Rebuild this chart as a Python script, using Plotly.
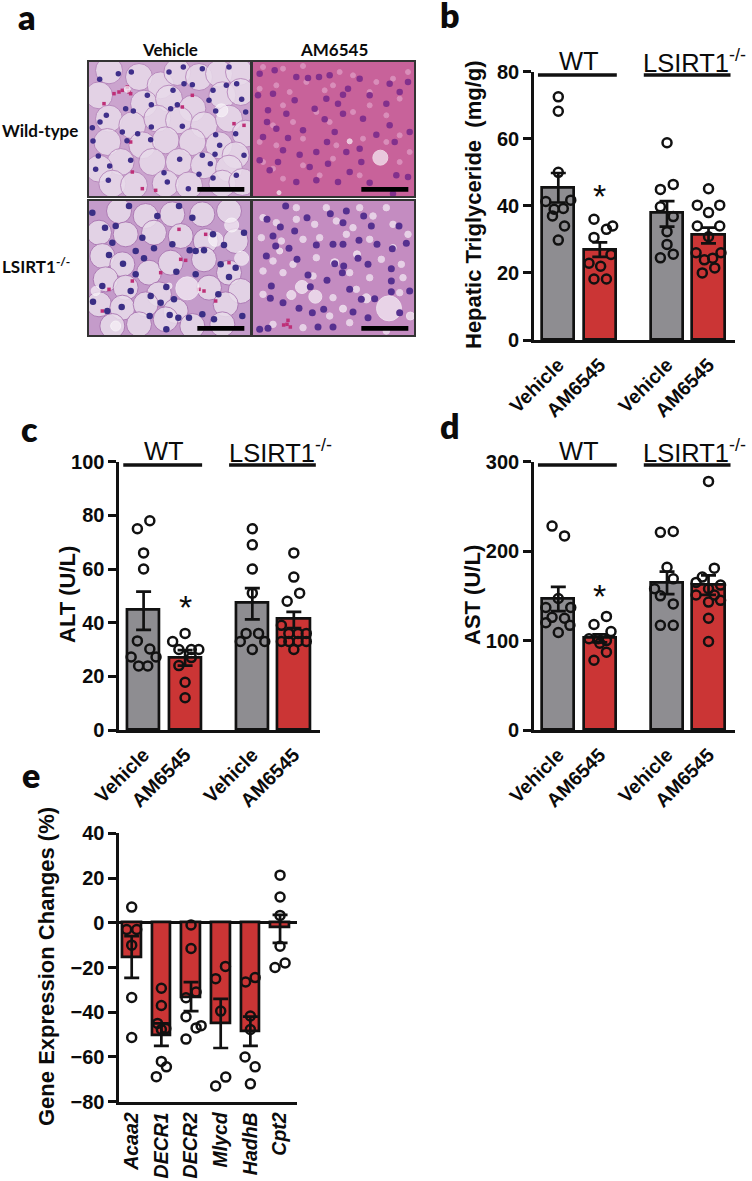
import plotly.graph_objects as go

# ---------- chart data ----------
group_labels = ["Vehicle", "AM6545", "Vehicle", "AM6545"]
group_x = [0, 1, 2.62, 3.62]
group_colors = ["#8E8D91", "#CB3535", "#8E8D91", "#CB3535"]

tg_means = [45.5, 27, 38, 31.5]
tg_hi = [49.8, 29.1, 41.4, 33.5]
tg_lo = [41, 24.8, 33.8, 28.8]
tg_wt_veh = [72.5, 68.2, 50, 41.3, 41.7, 39, 39.2, 37, 34, 29.8]
tg_wt_veh_dx = [0, 0, 0, -.30, .30, -.10, .12, -.14, .15, 0]
tg_wt_am = [36, 34, 33, 30.6, 25.5, 22.9, 22, 18.2, 18.2]
tg_wt_am_dx = [-.14, .31, .16, -.14, .27, -.26, .02, -.14, .16]
tg_ko_veh = [58.8, 44.9, 46.4, 39.7, 36.8, 32.3, 28.5, 24.5, 25.6]
tg_ko_veh_dx = [0, -.16, .15, -.16, .15, 0, 0, -.16, .15]
tg_ko_am = [45.1, 40.2, 40.2, 38, 34, 34, 30.8, 26, 26, 23.9, 24.4, 20, 21.5]
tg_ko_am_dx = [0, -.27, .27, 0, -.27, .27, 0, -.3, .3, -.1, .1, -.15, .15]

alt_means = [44.8, 27, 47.3, 41.3]
alt_hi = [51.6, 29.8, 52.9, 44]
alt_lo = [37.3, 24, 41.2, 38]
alt_wt_veh = [78, 75, 66, 60, 33.2, 30.2, 27.2, 27.2, 23.9, 23.9]
alt_wt_veh_dx = [.15, -.15, 0, 0, -.15, .15, -.30, .30, -.12, .10]
alt_wt_am = [36, 33, 30, 30, 30, 27, 24, 17.8, 12]
alt_wt_am_dx = [0, -.30, -.15, .15, .33, .15, -.15, 0, 0]
alt_ko_veh = [75, 69, 60, 51, 36, 36, 33, 33, 30]
alt_ko_veh_dx = [0, 0, 0, 0, -.15, .15, -.29, .30, 0]
alt_ko_am = [66, 57, 51, 48, 39, 36, 36, 36, 33, 33, 33, 33, 30]
alt_ko_am_dx = [0, 0, .14, -.16, -.30, -.12, .10, .30, -.30, -.12, .10, .30, 0]

ast_means = [147, 103, 165, 162]
ast_hi = [160, 107, 177, 173]
ast_lo = [133, 98, 152, 151]
ast_wt_veh = [228, 217, 147, 137, 137, 120, 126, 125, 117, 109]
ast_wt_veh_dx = [-.15, .15, 0, -.30, .30, -.30, -.15, .15, .28, 0]
ast_wt_am = [127, 118, 110, 102, 102, 100, 97, 87, 78]
ast_wt_am_dx = [.16, -.14, .27, -.26, -.04, .16, 0, .16, -.14]
ast_ko_veh = [221, 222, 182, 169, 158, 150, 141, 117, 117]
ast_ko_veh_dx = [-.16, .15, 0, .15, -.30, -.16, .15, -.16, .15]
ast_ko_am = [278, 181, 171, 165, 162, 158, 151, 151, 143, 145, 125, 99]
ast_ko_am_dx = [0, .14, -.15, -.30, .29, 0, -.30, .14, 0, .29, 0, 0]

gene_names = ["Acaa2", "DECR1", "DECR2", "Mlycd", "HadhB", "Cpt2"]
gene_means = [-15.5, -50.5, -33.5, -45, -48.5, -2]
gene_hi = [-6, -45, -26.5, -34, -42, 3.5]
gene_lo = [-24.6, -55, -39.5, -56, -55, -9]
acaa2 = [7, -3, -3, -10, -33.4, -51.3]
acaa2_dx = [0, -.17, .17, 0, 0, 0]
decr1 = [-29.3, -37, -45, -47.7, -47.3, -62, -64.4, -68.8]
decr1_dx = [0, 0, -.13, 0, .15, 0, .17, -.17]
decr2 = [-1, -11.5, -31, -33.5, -42, -47, -46, -52]
decr2_dx = [0, 0, .17, -.17, -.17, .17, .34, -.17]
mlycd = [-19.5, -25, -39.5, -69, -73]
mlycd_dx = [.16, -.17, 0, .17, -.17]
hadhb = [-24.5, -26.5, -41.7, -47.7, -60, -64.4, -72]
hadhb_dx = [.16, -.16, 0, 0, -.18, .16, 0]
cpt2 = [21.3, 11.5, 3.3, -10.5, -18, -20]
cpt2_dx = [0, 0, 0, 0, .17, -.17]

# ---------- histology sketches: feature centres ----------
tl_cells = [(60,25),(150,45),(215,70),(265,30),(330,45),(390,35),(450,30),(30,100),(165,125),(240,110),(310,140),
            (400,100),(455,90),(60,170),(130,190),(205,170),(270,175),(345,190),(420,170),(470,215),(55,240),
            (160,250),(230,235),(310,240),(390,250),(440,280),(95,300),(190,300),(270,300),(345,310),(420,320),
            (30,320),(70,365),(135,370),(230,365),(300,370),(400,365),(460,360)]
tl_nuclei = [(32,52),(88,35),(127,30),(240,30),(285,65),(252,85),(175,100),(187,128),(133,147),(110,140),(33,180),
             (100,210),(114,236),(185,233),(187,195),(280,193),(245,140),(265,128),(310,68),(372,85),(360,115),
             (380,147),(412,70),(443,65),(458,112),(470,150),(380,218),(392,250),(378,277),(340,280),(364,305),
             (372,348),(330,337),(272,292),(225,332),(235,360),(298,380),(20,322),(62,312),(28,282),(125,295),
             (58,355),(440,215),(465,280),(442,340),(340,20),(283,15),(420,15),(52,160),(10,197),(12,237),(146,215)]
tl_stain = [(100,85),(125,95),(75,95),(115,75),(45,125),(310,100),(280,135),(465,190),(125,240),(130,330),(160,380),
            (200,385),(120,90),(90,90),(435,185)]
tl_vacuoles = [(397,145),(115,82)]

tr_specks = [(30,15),(90,20),(150,12),(215,85),(110,90),(20,80),(70,70),(160,60),(300,40),(350,90),(420,50),(465,30),
             (60,190),(120,180),(90,130),(230,180),(300,150),(350,130),(440,110),(400,160),(20,240),(70,250),(150,230),
             (240,290),(330,230),(440,220),(400,240),(30,300),(90,350),(200,340),(150,310),(250,250),(320,340),(440,300),
             (260,30),(190,150),(370,60),(240,70),(470,270),(60,320)]
tr_nuclei = [(198,45),(65,25),(20,35),(130,45),(165,48),(230,40),(255,125),(270,98),(220,110),(125,115),(60,95),
             (15,100),(45,145),(42,180),(100,155),(185,140),(215,172),(270,155),(350,100),(400,125),(440,90),
             (465,60),(410,65),(320,50),(285,80),(105,228),(30,225),(90,265),(140,278),(190,270),(222,240),
             (280,270),(325,300),(425,240),(370,218),(470,210),(410,190),(330,170),(290,330),(255,360),(190,355),
             (130,360),(50,325),(20,295),(350,362),(430,340),(465,345),(420,395),(225,305),(170,315),(75,300),
             (320,260),(70,200),(245,210),(150,205)]
tr_vacuoles = [(382,287),(290,238),(78,392)]

bl_cells = [(90,30),(170,45),(250,40),(340,40),(420,30),(30,95),(110,100),(195,95),(275,105),(350,120),(440,120),
            (40,165),(100,190),(180,215),(245,185),(345,175),(420,215),(50,235),(110,260),(210,280),(360,260),
            (455,270),(30,310),(100,320),(170,310),(260,330),(410,310),(70,375),(150,370),(230,355),(310,375),(400,370)]
bl_nuclei = [(48,80),(80,75),(70,125),(60,162),(102,188),(140,150),(165,172),(195,142),(250,130),(302,148),(320,150),
             (345,148),(405,132),(262,212),(320,220),(420,228),(232,258),(185,285),(255,295),(125,270),(98,318),
             (40,255),(12,302),(55,330),(182,345),(242,342),(268,350),(300,350),(375,355),(120,15),(205,45),(310,50),
             (372,100),(465,95),(440,200),(395,190),(140,220),(215,305),(232,385),(388,280),(10,35),(270,15),(460,345),(340,340),(160,110)]
bl_stain = [(275,175),(290,178),(330,265),(345,270),(130,240),(40,330),(350,100),(380,300),(420,185),(270,85),(60,265),(215,215)]
bl_vacuoles = [(295,262),(428,72),(380,115),(458,172),(20,270),(80,375),(240,255)]

br_gaps = [(30,50),(70,65),(130,55),(185,70),(250,60),(300,80),(360,45),(420,70),(465,100),(25,110),(85,120),(150,115),
           (200,110),(280,100),(350,115),(420,140),(60,180),(120,190),(190,170),(385,175),(445,190),(30,210),(90,215),
           (290,215),(350,230),(450,230),(30,280),(240,290),(310,265),(440,275),(230,345),(290,365),(150,380),(60,370),
           (400,390),(130,20),(220,20),(320,20),(400,20),(180,225)]
br_nuclei = [(162,50),(232,38),(280,30),(332,45),(438,75),(270,65),(355,75),(82,78),(125,90),(42,55),(98,15),(108,142),
             (68,135),(40,165),(132,175),(190,132),(240,130),(270,130),(318,118),(372,130),(418,143),(460,127),(315,172),
             (245,188),(272,195),(268,215),(165,222),(222,238),(415,203),(415,240),(470,270),(415,272),(290,265),(172,257),
             (55,255),(52,292),(90,305),(138,322),(178,335),(212,325),(300,333),(345,350),(365,293),(325,295),(195,378),
             (240,378),(45,382),(20,385),(345,190),(440,335),(60,105)]
br_vacuoles = [(408,322),(187,287),(147,258),(115,282),(270,323),(340,292),(472,345),(245,185),(312,160),(80,150)]
br_stain = [(102,370),(112,378),(92,372),(105,358)]

PANEL_LETTERS = {"a": (27, 17), "b": (450, 14), "c": (29, 428), "d": (450, 425), "e": (31, 774)}

# ---------- geometry (pixels in the 752x1181 page) ----------
W, H = 752, 1181
INK = "#111111"
ARIAL = "Liberation Sans"
fig = go.Figure()


def xd(a, b):
    return [a / W, b / W]


def yd(top, bottom):
    return [1 - bottom / H, 1 - top / H]


def ann(x, y, text, size=20, family=ARIAL, weight=700, angle=0, anchor="center", **kw):
    fig.add_annotation(x=x / W, y=1 - y / H, xref="paper", yref="paper", text=text, showarrow=False,
                       xanchor=anchor, yanchor="middle", textangle=angle,
                       font=dict(family=family, size=size, color="#0b0b0b", weight=weight), **kw)


def axis_common():
    return dict(showgrid=False, zeroline=False, showline=True, linecolor=INK, linewidth=2.7, automargin=False)


def add_bars(n, xs, means, hi, lo, colors, width):
    fig.add_trace(go.Bar(
        x=xs, y=means, width=width, xaxis=f"x{n}", yaxis=f"y{n}",
        marker=dict(color=colors, line=dict(color=INK, width=2.7)),
        error_y=dict(type="data", symmetric=False,
                     array=[h - m for h, m in zip(hi, means)],
                     arrayminus=[m - l for m, l in zip(means, lo)],
                     color=INK, thickness=2.7, width=7.5),
        showlegend=False))


def add_points(n, x0, vals, dx):
    fig.add_trace(go.Scatter(
        x=[x0 + d for d in dx], y=vals, mode="markers", xaxis=f"x{n}", yaxis=f"y{n}", showlegend=False,
        cliponaxis=False,
        marker=dict(symbol="circle-open", size=9, color=INK, line=dict(color=INK, width=2.5))))


def group_panel(n, left, top, bottom, ymax, dtick, means, hi, lo, series, title, title_x, title_y, star_y, head_y):
    # left = pixel position of the y axis; bars are placed by the axis scale
    step = 41.5
    first = left + 24.3
    right = left + 200.5
    fig.layout[f"xaxis{n}" if n > 1 else "xaxis"] = go.layout.XAxis(
        domain=xd(left, right), range=[(left - first) / step, (right - first) / step],
        anchor=f"y{n}", tickmode="array", tickvals=group_x, ticktext=group_labels, tickangle=-45,
        ticks="", ticklabelstandoff=3, tickfont=dict(family=ARIAL, size=19.5, color="#0b0b0b", weight=700), **axis_common())
    fig.layout[f"yaxis{n}" if n > 1 else "yaxis"] = go.layout.YAxis(
        domain=yd(top, bottom), range=[0, ymax], anchor=f"x{n}", dtick=dtick,
        ticks="outside", ticklen=8, tickwidth=2.7, tickcolor=INK,
        tickfont=dict(family=ARIAL, size=20, color="#0b0b0b", weight=700), **axis_common())
    add_bars(n, group_x, means, hi, lo, group_colors, 0.78)
    for x0, (vals, dx) in zip(group_x, series):
        add_points(n, x0, vals, dx)
    ann(title_x, title_y, title, size=22, angle=-90)
    # group rules and their labels
    xref = f"x{n}" if n > 1 else "x"
    for a, b in [(-0.49, 1.41), (2.06, 4.15)]:
        fig.add_shape(type="line", xref=xref, yref="paper", x0=a, x1=b, y0=1 - head_y / H, y1=1 - head_y / H,
                      line=dict(color=INK, width=3.5))
    ann(first + 20.5, head_y - 14, "WT", size=25.5, weight=400)
    ann(first + 83, head_y - 14, "LSIRT1<sup>-/-</sup>", size=25.5, weight=400, anchor="left")
    # significance star sits above the AM6545 bar of the WT group
    fig.add_annotation(x=group_x[1], y=star_y, xref=xref, yref=f"y{n}" if n > 1 else "y", text="*", showarrow=False,
                       yanchor="middle", font=dict(family=ARIAL, size=34, color="#0b0b0b", weight=400))


group_panel(1, 534, 71.7, 340, 80, 20, tg_means, tg_hi, tg_lo,
            [(tg_wt_veh, tg_wt_veh_dx), (tg_wt_am, tg_wt_am_dx), (tg_ko_veh, tg_ko_veh_dx), (tg_ko_am, tg_ko_am_dx)],
            "Hepatic Triglyceride  (mg/g)", 473, 205, 43, 75)
group_panel(2, 119.3, 461.7, 730, 100, 20, alt_means, alt_hi, alt_lo,
            [(alt_wt_veh, alt_wt_veh_dx), (alt_wt_am, alt_wt_am_dx), (alt_ko_veh, alt_ko_veh_dx), (alt_ko_am, alt_ko_am_dx)],
            "ALT (U/L)", 68, 595, 46, 465)
group_panel(3, 534, 461.7, 730, 300, 100, ast_means, ast_hi, ast_lo,
            [(ast_wt_veh, ast_wt_veh_dx), (ast_wt_am, ast_wt_am_dx), (ast_ko_veh, ast_ko_veh_dx), (ast_ko_am, ast_ko_am_dx)],
            "AST (U/L)", 473, 595, 150, 465)

# ---------- panel e ----------
g_step = 29.67
g_left, g_right, g_first = 119.3, 297, 131.7
gene_x = list(range(len(gene_names)))
fig.layout["xaxis4"] = go.layout.XAxis(
    domain=xd(g_left, g_right), range=[(g_left - g_first) / g_step, (g_right - g_first) / g_step], anchor="y4",
    tickmode="array", tickvals=gene_x, ticktext=[f"<i>{g}</i>" for g in gene_names], tickangle=-90, ticks="",
    ticklabelstandoff=0, tickfont=dict(family=ARIAL, size=19.5, color="#0b0b0b", weight=700), **axis_common())
ax = axis_common()
ax["zeroline"] = True
ax["zerolinecolor"] = INK
ax["zerolinewidth"] = 2.7
fig.layout["yaxis4"] = go.layout.YAxis(
    domain=yd(833.3, 1101.7), range=[-80, 40], anchor="x4", dtick=20, ticks="outside", ticklen=8, tickwidth=2.7,
    tickcolor=INK, tickfont=dict(family=ARIAL, size=20, color="#0b0b0b", weight=700), **ax)
add_bars(4, gene_x, gene_means, gene_hi, gene_lo, "#CB3535", 0.63)
for x0, (vals, dx) in zip(gene_x, [(acaa2, acaa2_dx), (decr1, decr1_dx), (decr2, decr2_dx), (mlycd, mlycd_dx),
                                   (hadhb, hadhb_dx), (cpt2, cpt2_dx)]):
    add_points(4, x0, vals, dx)
ann(47, 967, "Gene Expression Changes (%)", size=22, angle=-90)


# ---------- panel a: schematic micrographs ----------
def micrograph(n, left, top, bg, cells, cell_fill, cell_line, cell_size, cell_symbol, nuclei, nuc_color, nuc_size, stain, vac, vac_size):
    hidden = dict(tickmode="array", tickvals=[], showticklabels=False, ticks="", showgrid=False, zeroline=False,
                  showline=True, mirror=True, linecolor="#333333", linewidth=1.5, automargin=False)
    fig.layout[f"xaxis{n}"] = go.layout.XAxis(domain=xd(left, left + 161), range=[0, 483], anchor=f"y{n}", **hidden)
    fig.layout[f"yaxis{n}"] = go.layout.YAxis(domain=yd(top, top + 134), range=[402, 0], anchor=f"x{n}", **hidden)
    xr, yr = f"x{n}", f"y{n}"
    fig.add_shape(type="rect", xref=xr, yref=yr, x0=0, x1=483, y0=0, y1=402, fillcolor=bg, line_width=0, layer="below")
    def dots(pts, **marker):
        fig.add_trace(go.Scatter(x=[p[0] for p in pts], y=[p[1] for p in pts], mode="markers", xaxis=xr, yaxis=yr,
                                 marker=marker, showlegend=False, hoverinfo="skip"))
    dots(cells, size=cell_size, color=cell_fill, symbol=cell_symbol, line=dict(color=cell_line, width=1), opacity=0.85)
    if stain:
        dots(stain, size=3.5, color="#BE2F77", symbol="square")
    dots(vac, size=vac_size, color="#F8F2F8")
    dots(nuclei, size=nuc_size, color=nuc_color)
    fig.add_shape(type="rect", xref=xr, yref=yr, x0=325, x1=466, y0=375, y1=389, fillcolor="#000000", line_width=0)


micrograph(5, 89, 62, "#CBA4CE", tl_cells, "#E8DBEA", "#B584BA", 27, "circle", tl_nuclei, "#3F2F8A", 5.5, tl_stain, tl_vacuoles,
           [13, 6])
micrograph(6, 253, 62, "#C8629A", tr_specks, "#DD96C0", "#DD96C0", 5, "circle", tr_nuclei, "#82308C", 6.5, None, tr_vacuoles,
           [15, 5, 4])
micrograph(7, 89, 201, "#C49BCA", bl_cells, "#E8DCEA", "#A974B1", 25, "circle", bl_nuclei, "#3A2E85", 6.5, bl_stain, bl_vacuoles,
           [23, 14, 14, 14, 9, 10, 6])
micrograph(8, 253, 201, "#C48CC1", br_gaps, "#EDDDED", "#EDDDED", 6.5, "circle", br_nuclei, "#55308F", 7, br_stain, br_vacuoles,
           [25, 13, 13, 9, 7, 9, 8, 8, 7, 6])

LATO = "Lato"
ann(170, 50, "Vehicle", size=17, family=LATO)
ann(334, 50, "AM6545", size=17, family=LATO)
ann(0, 130, "Wild-type", size=17, family=LATO, anchor="left")
ann(0, 266, "LSIRT1<sup>-/-</sup>", size=17, family=LATO, anchor="left")
for letter, (lx, ly) in PANEL_LETTERS.items():
    ann(lx, ly, letter, size=34, family=LATO, weight=800)

fig.update_layout(width=W, height=H, autosize=False, margin=dict(l=0, r=0, t=0, b=0, autoexpand=False), paper_bgcolor="white",
                  plot_bgcolor="rgba(0,0,0,0)", showlegend=False, bargap=0)
fig.write_html("out.html", config={"displayModeBar": False},
               post_script="document.body.style.margin='0';document.body.style.overflow='hidden';")
